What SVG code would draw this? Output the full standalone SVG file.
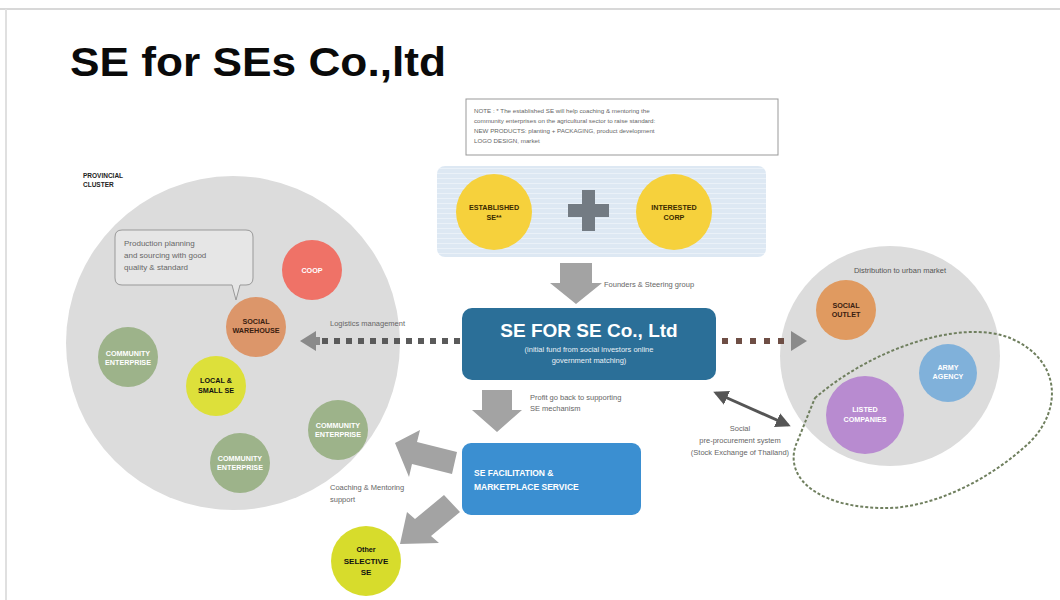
<svg xmlns="http://www.w3.org/2000/svg" width="1060" height="600" viewBox="0 0 1060 600">
<defs>
<pattern id="stripes" width="8" height="5" patternUnits="userSpaceOnUse">
<rect width="8" height="5" fill="#dde8f3"/>
<rect y="3" width="8" height="1" fill="#eaf1f8"/>
</pattern>
<marker id="dh" viewBox="0 0 10 10" refX="8" refY="5" markerWidth="5" markerHeight="5" orient="auto-start-reverse">
<path d="M0,0 L10,5 L0,10 Z" fill="#555"/>
</marker>
</defs>
<style>
.t{font-family:"Liberation Sans",Arial,sans-serif}
.lbl{font-family:"Liberation Sans",Arial,sans-serif;font-size:7.5px;fill:#666}
.cb{font-family:"Liberation Sans",Arial,sans-serif;font-size:7.2px;font-weight:bold;text-anchor:middle}
.big{fill:#dcdcdc}
.blk{fill:#a3a3a3}
.dot{fill:#5a5a5a}
</style>
<rect width="1060" height="600" fill="#ffffff"/>
<line x1="0" y1="9" x2="1060" y2="9" stroke="#d8d8d8" stroke-width="2"/>
<line x1="6" y1="9" x2="6" y2="600" stroke="#e0e0e0" stroke-width="2"/>
<text class="t" x="70" y="76" font-size="41" font-weight="bold" fill="#0a0a0a" textLength="376" lengthAdjust="spacingAndGlyphs">SE for SEs Co.,ltd</text>

<g id="note">
<rect x="466" y="99" width="312" height="56" fill="#fff" stroke="#999" stroke-width="1"/>
<text class="t" font-size="6.2" fill="#666"><tspan x="474" y="113">NOTE : * The established SE will help coaching &amp; mentoring the</tspan><tspan x="474" y="123">community enterprises on the agricultural sector to raise standard:</tspan><tspan x="474" y="133">NEW PRODUCTS: planting + PACKAGING, product development</tspan><tspan x="474" y="143">LOGO DESIGN, market</tspan></text>
</g>

<g id="left-cluster">
<circle cx="233" cy="343" r="167" class="big"/>
<text class="t" font-size="6.5" font-weight="bold" fill="#222"><tspan x="83" y="178">PROVINCIAL</tspan><tspan x="83" y="187">CLUSTER</tspan></text>
</g>
<g id="callout">
<path d="M122,230 H246 Q253,230 253,237 V278 Q253,285 246,285 H240 L236,300 L232,285 H122 Q115,285 115,278 V237 Q115,230 122,230 Z" fill="#e6e6e6" stroke="#999" stroke-width="1"/>
<text class="t" font-size="8" fill="#666"><tspan x="124" y="246">Production planning</tspan><tspan x="124" y="258">and sourcing with good</tspan><tspan x="124" y="270">quality &amp; standard</tspan></text>
</g>
<g id="coop"><circle cx="312" cy="270" r="30" fill="#ef7267"/><text class="cb" x="312" y="273" fill="#fff">COOP</text></g>
<g id="social-warehouse"><circle cx="256" cy="327" r="30" fill="#dc966a"/><text class="cb" fill="#3a2010"><tspan x="256" y="324">SOCIAL</tspan><tspan x="256" y="333">WAREHOUSE</tspan></text></g>
<g id="ce-left"><circle cx="128" cy="357" r="30" fill="#9db38a"/><text class="cb" fill="#fff"><tspan x="128" y="356">COMMUNITY</tspan><tspan x="128" y="365">ENTERPRISE</tspan></text></g>
<g id="local-small-se"><circle cx="216" cy="386" r="30" fill="#dde03a"/><text class="cb" fill="#111"><tspan x="216" y="383">LOCAL &amp;</tspan><tspan x="216" y="393">SMALL SE</tspan></text></g>
<g id="ce-right"><circle cx="338" cy="430" r="30" fill="#9db38a"/><text class="cb" fill="#fff"><tspan x="338" y="428">COMMUNITY</tspan><tspan x="338" y="437">ENTERPRISE</tspan></text></g>
<g id="ce-bottom"><circle cx="240" cy="463" r="30" fill="#9db38a"/><text class="cb" fill="#fff"><tspan x="240" y="461">COMMUNITY</tspan><tspan x="240" y="470">ENTERPRISE</tspan></text></g>

<g id="founders">
<rect x="437" y="166" width="329" height="91" rx="8" fill="url(#stripes)"/>
<circle cx="494" cy="212" r="38" fill="#f6d13c"/>
<text class="cb" fill="#3a2a00"><tspan x="494" y="210">ESTABLISHED</tspan><tspan x="494" y="220">SE**</tspan></text>
<path d="M582,190 H595 V204 H609 V217 H595 V231 H582 V217 H568 V204 H582 Z" fill="#737b83"/>
<circle cx="674" cy="212" r="38" fill="#f6d13c"/>
<text class="cb" fill="#3a2a00"><tspan x="674" y="210">INTERESTED</tspan><tspan x="674" y="220">CORP</tspan></text>
</g>

<g id="se-for-se">
<rect x="462" y="308" width="254" height="72" rx="10" fill="#2b6f98"/>
<text class="t" x="589" y="337" font-size="19" font-weight="bold" fill="#fff" text-anchor="middle">SE FOR SE Co., Ltd</text>
<text class="t" font-size="7.5" fill="#e8f0f6" text-anchor="middle"><tspan x="589" y="352">(initial fund from social investors online</tspan><tspan x="589" y="363">government matching)</tspan></text>
</g>

<g id="facilitation">
<rect x="462" y="443" width="179" height="72" rx="9" fill="#3b8fd1"/>
<text class="t" font-size="8.5" font-weight="bold" fill="#fff"><tspan x="474" y="476">SE FACILITATION &amp;</tspan><tspan x="474" y="490">MARKETPLACE SERVICE</tspan></text>
</g>

<g id="other-selective-se"><circle cx="366" cy="561" r="35" fill="#d7dc2c"/><text class="cb" fill="#111"><tspan x="366" y="552">Other</tspan><tspan x="366" y="564" font-size="8">SELECTIVE</tspan><tspan x="366" y="575" font-size="8">SE</tspan></text></g>

<g id="urban-market">
<circle cx="890" cy="356" r="110" class="big"/>
<text class="t" x="900" y="273" font-size="7.5" fill="#555" text-anchor="middle">Distribution to urban market</text>
</g>
<g id="social-outlet"><circle cx="846" cy="310" r="30" fill="#e09a60"/><text class="cb" fill="#3a2010"><tspan x="846" y="308">SOCIAL</tspan><tspan x="846" y="317">OUTLET</tspan></text></g>
<g id="army-agency"><circle cx="948" cy="373" r="29" fill="#80b1da"/><text class="cb" fill="#fff"><tspan x="948" y="370">ARMY</tspan><tspan x="948" y="379">AGENCY</tspan></text></g>
<g id="listed-companies"><circle cx="865" cy="415" r="39" fill="#b88bd0"/><text class="cb" fill="#fff"><tspan x="865" y="412">LISTED</tspan><tspan x="865" y="422">COMPANIES</tspan></text></g>

<g id="connectors">
<path d="M815,398 C870,350 960,318 1010,338 C1062,360 1062,410 1030,442 C990,480 930,510 880,508 C810,506 782,472 798,440 C804,425 810,410 815,398 Z" fill="none" stroke="#6f7f5e" stroke-width="2" stroke-dasharray="3 2"/>
<path d="M560,263 H592 V283 H602 L576,304 L550,283 H560 Z" class="blk"/>
<text class="lbl" x="604" y="287">Founders &amp; Steering group</text>
<g class="dot">
<rect x="322" y="338" width="6" height="6"/><rect x="334" y="338" width="6" height="6"/><rect x="346" y="338" width="6" height="6"/><rect x="358" y="338" width="6" height="6"/><rect x="370" y="338" width="6" height="6"/><rect x="382" y="338" width="6" height="6"/><rect x="394" y="338" width="6" height="6"/><rect x="406" y="338" width="6" height="6"/><rect x="418" y="338" width="6" height="6"/><rect x="430" y="338" width="6" height="6"/><rect x="442" y="338" width="6" height="6"/><rect x="454" y="338" width="6" height="6"/>
</g>
<path d="M300,341 L316,331 V337 H320 V345 H316 V351 Z" fill="#8a8a8a"/>
<text class="lbl" x="330" y="326">Logistics management</text>
<g fill="#6e4e45">
<rect x="722" y="338" width="6" height="6"/><rect x="736" y="338" width="6" height="6"/><rect x="750" y="338" width="6" height="6"/><rect x="764" y="338" width="6" height="6"/><rect x="778" y="338" width="6" height="6"/>
</g>
<path d="M807,341 L791,331 V351 Z" fill="#8a8a8a"/>
<line x1="716" y1="393" x2="788" y2="425" stroke="#555" stroke-width="3" marker-start="url(#dh)" marker-end="url(#dh)"/>
<text class="lbl" text-anchor="middle"><tspan x="740" y="431">Social</tspan><tspan x="740" y="443">pre-procurement system</tspan><tspan x="740" y="455">(Stock Exchange of Thailand)</tspan></text>
<path d="M482,390 H512 V410 H522 L497,432 L472,410 H482 Z" class="blk"/>
<text class="lbl"><tspan x="530" y="400">Profit go back to supporting</tspan><tspan x="530" y="411">SE mechanism</tspan></text>
<path d="M395,443 L420,430 L417,442 L457,452 L452,474 L412,464 L409,477 Z" class="blk"/>
<path d="M400,544 L407,512 L415,519 L444,495 L460,512 L431,536 L439,543 Z" class="blk"/>
<text class="lbl"><tspan x="330" y="490">Coaching &amp; Mentoring</tspan><tspan x="330" y="502">support</tspan></text>
</g>
</svg>
